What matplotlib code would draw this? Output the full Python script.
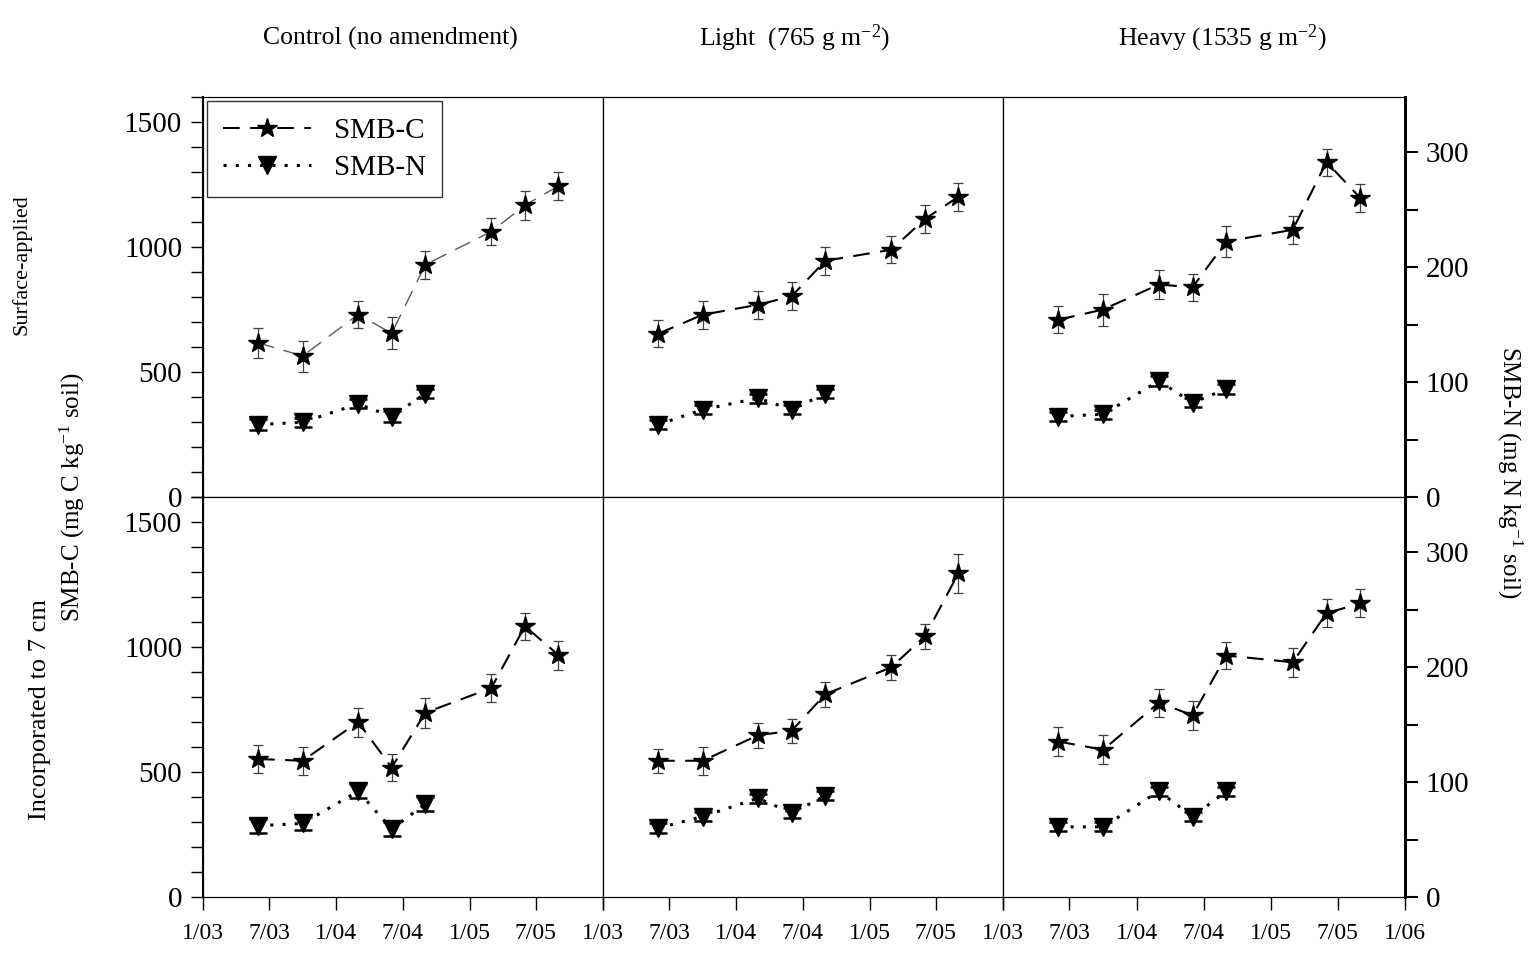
import numpy as np
import pandas as pd
import matplotlib
matplotlib.use('Agg')
import matplotlib.pyplot as plt
from matplotlib.ticker import MultipleLocator
from matplotlib.lines import Line2D

plt.rcParams['font.family'] = ['Liberation Serif', 'DejaVu Serif']
plt.rcParams['mathtext.fontset'] = 'custom'
plt.rcParams['mathtext.rm'] = 'Liberation Serif'
plt.rcParams['mathtext.it'] = 'Liberation Serif:italic'

# sampling dates (SMB-N only measured on the first five)
sample_dates = pd.to_datetime(['2003-06-01', '2003-10-01', '2004-03-01', '2004-06-01',
                               '2004-09-01', '2005-03-01', '2005-06-01', '2005-09-01'])
n_dates_smbn = 5

treatments = ['Control (no amendment)', 'Light  (765 g m$^{-2}$)', 'Heavy (1535 g m$^{-2}$)']
placements = ['Surface-applied', 'Incorporated to 7 cm']

# SMB-C (mg C / kg soil), rows = placement, columns = treatment
smbc_surface = [[617, 564, 730, 655, 929, 1062, 1167, 1244],
                [653, 729, 769, 803, 945, 989, 1112, 1201],
                [709, 750, 850, 839, 1022, 1069, 1340, 1196]]
smbc_incorp = [[552, 545, 700, 518, 737, 836, 1083, 968],
               [545, 545, 647, 665, 811, 919, 1043, 1295],
               [622, 589, 777, 727, 966, 939, 1135, 1175]]
smbc_surface_err = [[60, 62, 55, 64, 56, 54, 57, 57],
                    [54, 55, 55, 56, 56, 54, 56, 56],
                    [54, 64, 57, 55, 62, 56, 54, 55]]
smbc_incorp_err = [[56, 55, 58, 55, 61, 56, 55, 58],
                   [49, 55, 49, 49, 51, 49, 50, 78],
                   [57, 58, 55, 57, 55, 58, 56, 56]]

# SMB-N (mg N / kg soil)
smbn_surface = [[63, 65, 81, 70, 90],
                [63, 76, 86, 76, 90],
                [70, 72, 101, 82, 94]]
smbn_incorp = [[62, 64, 92, 59, 81],
               [60, 70, 86, 73, 88],
               [61, 61, 92, 70, 92]]
smbn_surface_err = [[5, 4, 4, 5, 4],
                    [4, 4, 4, 4, 4],
                    [4, 4, 4, 4, 4]]
smbn_incorp_err = [[6, 6, 6, 6, 6],
                   [4, 4, 4, 4, 4],
                   [4, 4, 4, 4, 4]]

x_ticks = pd.to_datetime(['2003-01-01', '2003-07-01', '2004-01-01', '2004-07-01',
                          '2005-01-01', '2005-07-01', '2006-01-01'])
x_tick_labels = ['1/03', '7/03', '1/04', '7/04', '1/05', '7/05', '1/06']

W, H = 1536, 957
fig = plt.figure(figsize=(W / 100, H / 100), dpi=100)

lefts = [203, 603, 1003]
widths = [400, 400, 402]
tops = [97, 497]
ph = 400

smbc_rows = [smbc_surface, smbc_incorp]
smbc_err_rows = [smbc_surface_err, smbc_incorp_err]
smbn_rows = [smbn_surface, smbn_incorp]
smbn_err_rows = [smbn_surface_err, smbn_incorp_err]

c_style = dict(color='black', linestyle=(0, (8, 5)), lw=1.5, marker='*', ms=15,
               mfc='black', mec='black')
n_style = dict(color='black', linestyle=(0, (1, 3)), lw=2.2, marker='v', ms=13,
               mfc='black', mec='black')

for r in range(2):
    for c in range(3):
        ax = fig.add_axes([lefts[c] / W, 1 - (tops[r] + ph) / H, widths[c] / W, ph / H])
        ax2 = ax.twinx()

        # SMB-C on the left axis (the first panel has a thinner, greyer line)
        style = dict(c_style)
        if r == 0 and c == 0:
            style.update(color='0.35', lw=1.0, linestyle=(0, (12, 7)))
            style.update(mfc='black', mec='black')
        ax.errorbar(sample_dates, smbc_rows[r][c], yerr=smbc_err_rows[r][c],
                    ecolor='0.25', elinewidth=0.9, capsize=3.5, capthick=0.9, **style)
        ax.set_ylim(0, 1600)
        ax.set_xlim(x_ticks[0], x_ticks[-1])
        ax.yaxis.set_major_locator(MultipleLocator(500))
        ax.yaxis.set_minor_locator(MultipleLocator(100))
        ax.tick_params(axis='y', which='both', direction='out', length=9, width=1,
                       labelsize=21, pad=6, right=False, labelright=False)
        if c > 0:
            ax.tick_params(axis='y', which='both', left=False, labelleft=False)
        else:
            ax.spines['left'].set_linewidth(1.5)

        ax.set_xticks(x_ticks)
        if r == 1:
            labels = list(x_tick_labels)
            if c < 2:
                labels[-1] = ''
            ax.set_xticklabels(labels)
            ax.tick_params(axis='x', direction='out', length=9, width=1,
                           labelsize=17, pad=10)
        else:
            ax.tick_params(axis='x', bottom=False, labelbottom=False)

        # SMB-N on the right axis
        ax2.errorbar(sample_dates[:n_dates_smbn], smbn_rows[r][c], yerr=smbn_err_rows[r][c],
                     ecolor='black', elinewidth=1.0, capsize=6.5, capthick=1.8, **n_style)
        ax2.set_ylim(0, 348)
        ax2.yaxis.set_major_locator(MultipleLocator(100))
        ax2.yaxis.set_minor_locator(MultipleLocator(50))
        ax2.tick_params(axis='y', which='both', direction='out', length=9, width=1.5,
                        labelsize=21, pad=6, left=False, labelleft=False)
        if c < 2:
            ax2.tick_params(axis='y', which='both', right=False, labelright=False)
        else:
            ax2.spines['right'].set_linewidth(2)
            ax.spines['right'].set_linewidth(2)

        if r == 0 and c == 0:
            handles = [Line2D([], [], **c_style), Line2D([], [], **n_style)]
            leg = ax2.legend(handles, ['SMB-C', 'SMB-N'], loc='upper left', fontsize=21,
                             frameon=True, fancybox=False, edgecolor='black',
                             handlelength=3.0, handletextpad=0.8, borderaxespad=0.15,
                             labelspacing=0.38, numpoints=1, borderpad=0.55)
            leg.get_frame().set_linewidth(1.0)

# column titles
title_x = [390, 795, 1222]
for t, xt in zip(treatments, title_x):
    fig.text(xt / W, 1 - 38 / H, t, ha='center', va='center', fontsize=18.5)

# row labels
fig.text(22 / W, 1 - 265 / H, placements[0], rotation=90, ha='center', va='center', fontsize=16)
fig.text(40 / W, 1 - 710 / H, placements[1], rotation=90, ha='center', va='center', fontsize=19)

fig.text(72 / W, 1 - 497 / H, 'SMB-C (mg C kg$^{-1}$ soil)', rotation=90,
         ha='center', va='center', fontsize=18)
fig.text(1510 / W, 1 - 472 / H, 'SMB-N (mg N kg$^{-1}$ soil)', rotation=270,
         ha='center', va='center', fontsize=18)

fig.savefig('out.png', dpi=100)
